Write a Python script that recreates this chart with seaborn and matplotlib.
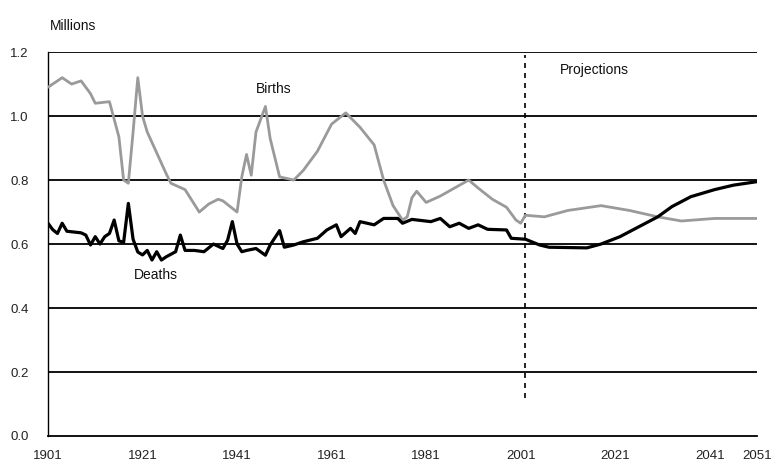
import pandas as pd
import matplotlib
matplotlib.use("Agg")
import matplotlib.pyplot as plt
import seaborn as sns

# Births, millions
birth_years = [1901, 1903, 1904, 1906, 1908, 1910, 1911, 1914, 1916, 1917, 1918,
               1919, 1920, 1921, 1922, 1926, 1927, 1930, 1933, 1935, 1937, 1938,
               1941, 1942, 1943, 1944, 1945, 1947, 1948, 1950, 1953, 1955, 1958,
               1961, 1964, 1967, 1970, 1972, 1974, 1976, 1977, 1978, 1979, 1981,
               1984, 1987, 1990, 1992, 1995, 1998, 2000, 2001, 2002, 2006, 2011,
               2018, 2024, 2030, 2035, 2042, 2051]
births = [1.09, 1.11, 1.12, 1.10, 1.11, 1.07, 1.04, 1.045, 0.935, 0.80, 0.79,
          0.95, 1.12, 1.00, 0.95, 0.82, 0.79, 0.77, 0.70, 0.725, 0.74, 0.735,
          0.70, 0.81, 0.88, 0.815, 0.95, 1.03, 0.93, 0.81, 0.80, 0.83, 0.89,
          0.975, 1.01, 0.965, 0.91, 0.80, 0.72, 0.675, 0.685, 0.745, 0.765, 0.73,
          0.75, 0.775, 0.80, 0.775, 0.74, 0.715, 0.675, 0.665, 0.69, 0.685, 0.705,
          0.72, 0.705, 0.685, 0.672, 0.68, 0.68]

# Deaths, millions
death_years = [1901, 1902, 1903, 1904, 1905, 1908, 1909, 1910, 1911, 1912, 1913,
               1914, 1915, 1916, 1917, 1918, 1919, 1920, 1921, 1922, 1923, 1924,
               1925, 1926, 1928, 1929, 1930, 1932, 1934, 1936, 1938, 1939, 1940,
               1941, 1942, 1943, 1945, 1947, 1948, 1950, 1951, 1953, 1955, 1958,
               1960, 1962, 1963, 1965, 1966, 1967, 1970, 1972, 1975, 1976, 1978,
               1982, 1984, 1986, 1988, 1990, 1992, 1994, 1998, 1999, 2002, 2005,
               2007, 2015, 2018, 2022, 2026, 2030, 2033, 2037, 2042, 2046, 2051]
deaths = [0.665, 0.645, 0.633, 0.665, 0.64, 0.635, 0.628, 0.597, 0.623, 0.60, 0.623,
          0.633, 0.675, 0.61, 0.605, 0.727, 0.615, 0.575, 0.566, 0.58, 0.55, 0.576,
          0.55, 0.56, 0.576, 0.628, 0.58, 0.58, 0.576, 0.60, 0.586, 0.612, 0.67,
          0.60, 0.576, 0.58, 0.586, 0.565, 0.597, 0.642, 0.59, 0.597, 0.607, 0.618,
          0.644, 0.66, 0.623, 0.649, 0.633, 0.67, 0.66, 0.68, 0.68, 0.665, 0.677,
          0.67, 0.68, 0.654, 0.665, 0.649, 0.66, 0.646, 0.644, 0.618, 0.615, 0.597,
          0.59, 0.588, 0.60, 0.623, 0.654, 0.685, 0.717, 0.748, 0.77, 0.784, 0.795]

x_ticks = [1901, 1921, 1941, 1961, 1981, 2001, 2021, 2041, 2051]
y_ticks = [0.0, 0.2, 0.4, 0.6, 0.8, 1.0, 1.2]
projection_start = 2002

births_df = pd.DataFrame({"year": birth_years, "value": births})
deaths_df = pd.DataFrame({"year": death_years, "value": deaths})

sns.set_style("white")
plt.rcParams["font.family"] = ["Liberation Sans", "DejaVu Sans"]

fig = plt.figure(figsize=(7.79, 4.65), dpi=100)
ax = fig.add_axes([0.0616, 0.0624, 0.9102, 0.8256])

# horizontal gridlines
for v in y_ticks[1:]:
    ax.axhline(v, color="black", lw=1.3, zorder=1)

sns.lineplot(data=births_df, x="year", y="value", ax=ax, color="#9a9a9a", lw=2, zorder=3)
sns.lineplot(data=deaths_df, x="year", y="value", ax=ax, color="black", lw=2.3, zorder=4)

ax.vlines(projection_start, 0.12, 1.19, colors="black", linestyles=(0, (3, 3)), lw=1.2, zorder=2)

ax.set_xlim(1901, 2051)
ax.set_ylim(0, 1.2)
ax.set_xticks(x_ticks)
ax.set_yticks(y_ticks)
ax.set_yticklabels([f"{v:.1f}" for v in y_ticks])
ax.set_xlabel("")
ax.set_ylabel("")
ax.tick_params(axis="both", length=4, width=1, color="black", labelsize=9.5, labelcolor="#222222")
ax.tick_params(axis="x", pad=6)
ax.tick_params(axis="y", pad=10)

for s in ["top", "right"]:
    ax.spines[s].set_visible(False)
ax.spines["left"].set_color("black")
ax.spines["bottom"].set_color("black")
ax.spines["left"].set_linewidth(1)
ax.spines["bottom"].set_linewidth(1.3)

ax.text(1948.8, 1.086, "Births", ha="center", va="center", fontsize=10, color="#111111")
ax.text(1923.8, 0.503, "Deaths", ha="center", va="center", fontsize=10, color="#111111")
ax.text(2009.3, 1.144, "Projections", ha="left", va="center", fontsize=10, color="#111111")
fig.text(50 / 779, 1 - 26 / 465, "Millions", ha="left", va="center", fontsize=10, color="#111111")

plt.savefig("out.png", dpi=100)
plt.close()
